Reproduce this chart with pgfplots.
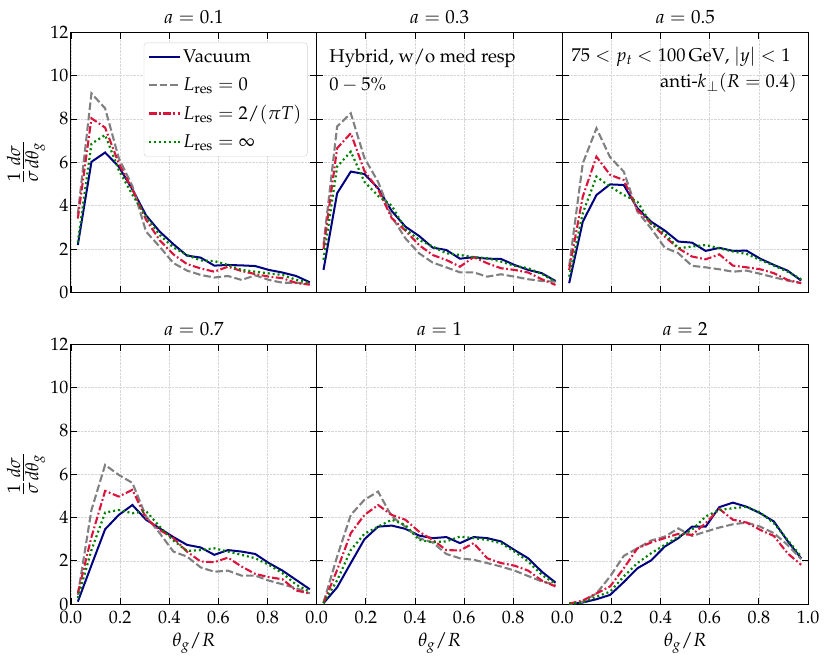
\documentclass[border=0pt]{standalone}
\usepackage[T1]{fontenc}
\usepackage{mathpazo}
\usepackage{pgfplots}
\usepackage{pgfplotstable}
\pgfplotsset{compat=1.18}
\usepgfplotslibrary{groupplots}
\definecolor{vac}{RGB}{0,0,128}
\definecolor{lzero}{RGB}{128,128,128}
\definecolor{ltwo}{RGB}{220,20,60}
\definecolor{linf}{RGB}{0,128,0}

\pgfplotstableread{
x vac l0 l2 linf
0.0278 2.18 3.60 3.40 2.30
0.0833 6.02 9.18 8.03 6.85
0.1389 6.45 8.49 7.60 7.26
0.1944 5.80 6.20 5.95 5.64
0.2500 4.75 4.90 4.75 4.50
0.3056 3.55 2.80 3.35 3.50
0.3611 2.80 2.10 2.40 2.64
0.4167 2.22 1.35 1.75 2.07
0.4722 1.69 1.00 1.30 1.72
0.5278 1.60 0.80 1.10 1.47
0.5833 1.23 0.68 0.95 1.44
0.6389 1.26 0.75 1.18 1.26
0.6944 1.24 0.57 0.98 1.03
0.7500 1.21 0.78 0.84 0.95
0.8056 1.03 0.57 0.72 0.87
0.8611 0.91 0.44 0.65 0.80
0.9167 0.75 0.44 0.43 0.57
0.9722 0.46 0.38 0.35 0.44
}\tA
\pgfplotstableread{
x vac l0 l2 linf
0.0278 1.03 2.20 2.00 1.50
0.0833 4.57 7.65 6.65 5.80
0.1389 5.57 8.26 7.34 6.49
0.1944 5.46 6.20 5.60 5.10
0.2500 4.80 5.10 4.75 4.45
0.3056 3.75 3.49 3.42 4.00
0.3611 3.03 2.49 2.85 2.91
0.4167 2.60 1.80 2.18 2.42
0.4722 2.06 1.37 1.72 2.11
0.5278 1.95 1.15 1.49 1.80
0.5833 1.55 0.92 1.18 1.72
0.6389 1.62 0.92 1.62 1.62
0.6944 1.55 0.72 1.34 1.57
0.7500 1.54 0.83 1.11 1.42
0.8056 1.26 0.72 1.03 1.22
0.8611 1.03 0.60 0.91 1.11
0.9167 0.88 0.52 0.60 0.85
0.9722 0.52 0.49 0.34 0.49
}\tB
\pgfplotstableread{
x vac l0 l2 linf
0.0278 0.42 1.20 1.03 0.72
0.0833 3.26 5.95 4.42 3.65
0.1389 4.49 7.57 6.26 5.34
0.1944 4.98 6.23 5.42 4.88
0.2500 4.95 5.57 5.18 4.49
0.3056 3.88 3.72 3.80 4.18
0.3611 3.26 2.95 3.18 3.15
0.4167 2.85 2.06 2.57 2.72
0.4722 2.34 1.80 2.03 2.03
0.5278 2.29 1.22 1.65 2.11
0.5833 1.91 1.15 1.52 2.18
0.6389 2.05 1.06 1.75 2.03
0.6944 1.91 0.95 1.23 1.88
0.7500 1.92 1.00 1.15 1.77
0.8056 1.55 0.85 1.06 1.49
0.8611 1.26 0.69 0.88 1.23
0.9167 1.00 0.54 0.57 0.95
0.9722 0.54 0.42 0.42 0.60
}\tC
\pgfplotstableread{
x vac l0 l2 linf
0.0278 0.12 0.43 0.50 0.28
0.0833 1.80 4.35 3.10 2.50
0.1389 3.46 6.43 5.23 4.23
0.1944 4.12 5.97 4.97 4.35
0.2500 4.58 5.60 5.28 4.20
0.3056 3.90 4.05 3.97 4.30
0.3611 3.50 3.28 3.43 3.58
0.4167 3.10 2.43 3.05 2.94
0.4722 2.74 2.20 2.43 2.46
0.5278 2.62 1.70 1.97 2.50
0.5833 2.28 1.50 1.94 2.58
0.6389 2.50 1.55 2.15 2.43
0.6944 2.43 1.32 1.74 2.28
0.7500 2.32 1.32 1.40 2.12
0.8056 1.90 1.09 1.25 1.82
0.8611 1.55 0.92 1.15 1.43
0.9167 1.12 0.74 0.63 0.90
0.9722 0.69 0.50 0.50 0.58
}\tD
\pgfplotstableread{
x vac l0 l2 linf
0.0278 0.05 0.08 0.05 0.05
0.0833 0.78 2.20 1.58 1.10
0.1389 1.90 4.12 3.28 2.50
0.1944 3.00 4.82 4.12 3.25
0.2500 3.58 5.20 4.58 3.58
0.3056 3.63 4.05 4.12 3.90
0.3611 3.48 3.58 3.90 3.66
0.4167 3.17 3.05 3.35 2.97
0.4722 3.05 2.85 2.97 2.86
0.5278 3.10 2.32 2.50 2.90
0.5833 2.82 2.12 2.48 3.12
0.6389 3.10 2.05 2.82 3.05
0.6944 3.05 1.90 2.12 2.97
0.7500 2.90 1.74 1.90 2.82
0.8056 2.50 1.55 1.78 2.43
0.8611 2.12 1.30 1.55 1.97
0.9167 1.50 1.05 1.09 1.35
0.9722 1.00 0.90 0.82 0.94
}\tE
\pgfplotstableread{
x vac l0 l2 linf
0.0278 0.02 0.02 0.03 0.02
0.0833 0.08 0.12 0.17 0.08
0.1389 0.23 0.50 0.50 0.35
0.1944 0.43 1.28 0.82 0.58
0.2500 1.02 2.23 1.66 1.28
0.3056 1.66 2.58 2.58 1.90
0.3611 2.02 2.94 2.85 2.35
0.4167 2.66 3.12 3.05 2.74
0.4722 3.05 3.50 3.25 3.12
0.5278 3.58 3.15 3.20 3.43
0.5833 3.58 3.35 3.74 4.05
0.6389 4.48 3.54 4.40 4.35
0.6944 4.69 3.69 3.90 4.43
0.7500 4.50 3.77 3.77 4.50
0.8056 4.20 3.58 3.43 4.23
0.8611 3.82 3.28 3.15 3.74
0.9167 2.92 2.74 2.35 2.97
0.9722 2.12 2.08 1.82 2.20
}\tF

\pgfplotsset{
  vacst/.style={draw=vac, solid, line width=2pt},
  l0st/.style={draw=lzero, line width=2.1pt, dash pattern=on 7.5pt off 3pt},
  l2st/.style={draw=ltwo, line width=2.1pt, dash pattern=on 7.5pt off 2.5pt on 1.8pt off 2.5pt},
  linfst/.style={draw=linf, line width=2.2pt, dash pattern=on 2pt off 2.9pt},
}
\newcommand{\fourplots}[1]{%
  \addplot[vacst] table[x=x,y=vac]{#1};
  \addplot[l0st] table[x=x,y=l0]{#1};
  \addplot[l2st] table[x=x,y=l2]{#1};
  \addplot[linfst] table[x=x,y=linf]{#1};
}
\newcommand{\yl}{$\frac{1}{\sigma}\frac{d\sigma}{d\theta_g}$}

\begin{document}
\begin{tikzpicture}
\begin{groupplot}[
  group style={group size=3 by 2, horizontal sep=0pt, vertical sep=52pt},
  scale only axis, width=245.7pt, height=260pt,
  xmin=0, xmax=1, ymin=0, ymax=12,
  xtick={0,0.2,0.4,0.6,0.8,1}, ytick={0,2,4,6,8,10,12},
  tick align=inside, major tick length=6.5pt,
  every tick/.style={black, line width=0.8pt},
  axis line style={black, line width=1pt},
  grid=major, major grid style={densely dotted, black!16, line width=0.5pt},
  tick label style={font=\fontsize{18}{21}\selectfont},
  yticklabel style={inner xsep=2.5pt, inner ysep=0pt},
  every axis x label/.style={at={(rel axis cs:0.5,0)}, anchor=base, yshift=-42.4pt,
    font=\fontsize{19}{22}\selectfont},
  every axis y label/.style={at={(rel axis cs:0,0.5)}, rotate=90, anchor=center, yshift=45pt,
    font=\fontsize{24}{28}\selectfont},
  every axis title/.style={at={(0.5,1)}, anchor=base, yshift=9pt,
    font=\fontsize{19}{22}\selectfont},
  xticklabel style={inner ysep=0pt, yshift=-6.8pt,
    /pgf/number format/.cd, fixed, fixed zerofill, precision=1},
  legend cell align=left,
]
\nextgroupplot[title={$a=0.1$}, xticklabels={}, ylabel={\yl},
  legend style={at={(0.963,0.96)}, anchor=north east, draw=black!18, rounded corners=3pt,
    fill=white, font=\fontsize{18.5}{22}\selectfont, row sep=9.5pt, inner xsep=4pt, inner ysep=5pt},
  legend image code/.code={\draw[#1] (0pt,0pt) -- (20pt,0pt); \path (0pt,0pt) -- (31pt,0pt);}]
\fourplots{\tA}
\legend{Vacuum,$L_{\mathrm{res}}=0$,$L_{\mathrm{res}}=2/(\pi T)$,$L_{\mathrm{res}}=\infty$}
\nextgroupplot[title={$a=0.3$}, xticklabels={}, yticklabels={}]
\fourplots{\tB}
\node[anchor=base west, font=\fontsize{18.5}{22}\selectfont, inner sep=0pt] at (rel axis cs:0.051,0.882) {Hybrid, w/o med resp};
\node[anchor=base west, font=\fontsize{18.5}{22}\selectfont, inner sep=0pt] at (rel axis cs:0.051,0.778) {$0-5\%$};
\nextgroupplot[title={$a=0.5$}, xticklabels={}, yticklabels={}]
\fourplots{\tC}
\node[anchor=base west, font=\fontsize{18.5}{22}\selectfont, inner sep=0pt] at (rel axis cs:0.037,0.887) {$75<p_t<100\,\mathrm{GeV}$, $|y|<1$};
\node[anchor=base east, font=\fontsize{18.5}{22}\selectfont, inner sep=0pt] at (rel axis cs:0.955,0.786) {anti-$k_\perp(R=0.4)$};
\nextgroupplot[title={$a=0.7$}, xlabel={$\theta_g/R$}, ylabel={\yl},
  xticklabels={$0.0$,$0.2$,$0.4$,$0.6$,$0.8$,{}}]
\fourplots{\tD}
\nextgroupplot[title={$a=1$}, xlabel={$\theta_g/R$}, yticklabels={},
  xticklabels={$0.0$,$0.2$,$0.4$,$0.6$,$0.8$,{}}]
\fourplots{\tE}
\nextgroupplot[title={$a=2$}, xlabel={$\theta_g/R$}, yticklabels={},
  xticklabels={$0.0$,$0.2$,$0.4$,$0.6$,$0.8$,$1.0$}]
\fourplots{\tF}
\end{groupplot}
\pgfresetboundingbox
\path[use as bounding box] (group c1r1.north west) ++(-71pt,32.3pt) rectangle ([xshift=22pt,yshift=-60.7pt]group c3r2.south east);
\end{tikzpicture}
\end{document}
